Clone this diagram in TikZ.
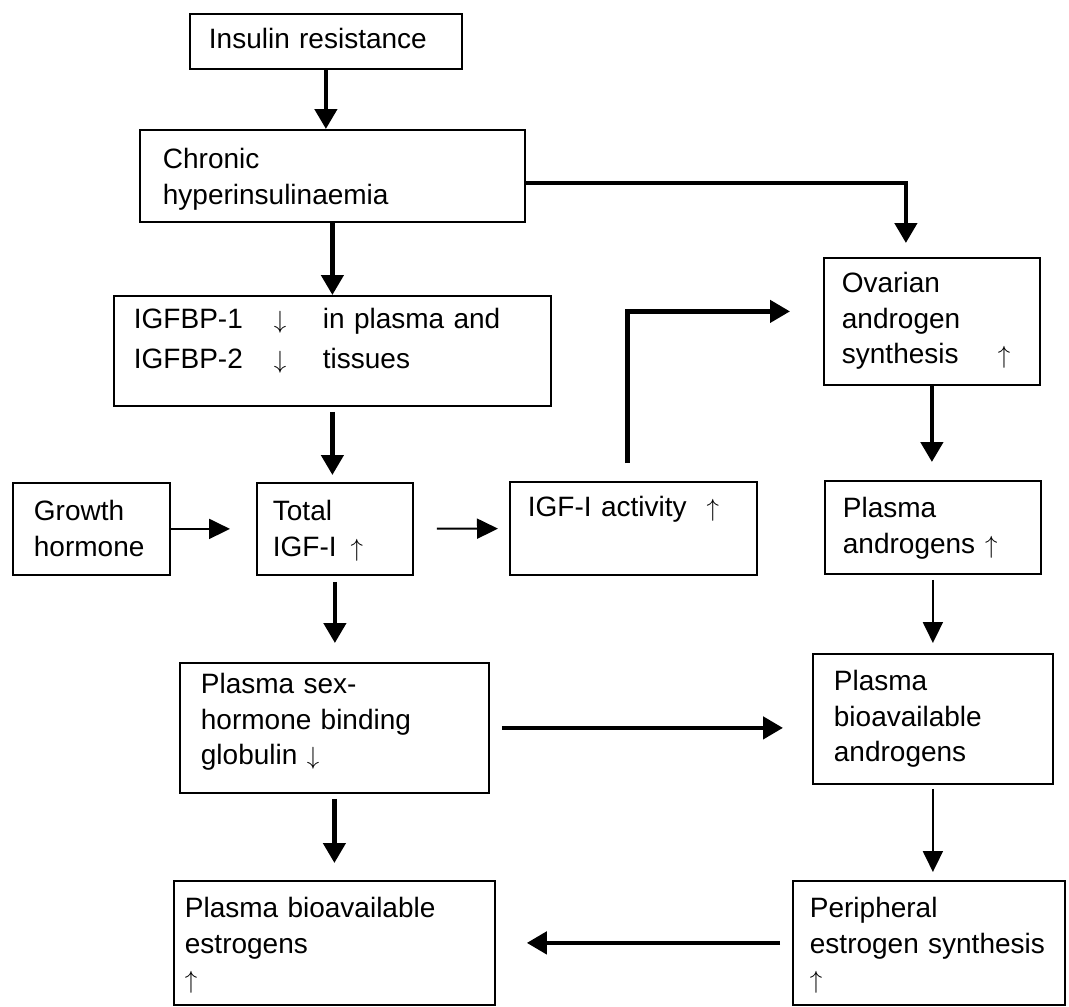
\documentclass[tikz,border=0pt]{standalone}
\usepackage{fontspec}
\setmainfont{Liberation Sans}
\usetikzlibrary{arrows.meta}

\begin{document}
\begin{tikzpicture}[x=1pt, y=-1pt,
  box/.style={draw, line width=1.8pt, anchor=north west, align=left,
    inner xsep=18pt, inner ysep=0pt, font=\fontsize{28}{35.5}\selectfont},
  bigarrow/.style={line width=4.5pt, -{Triangle[length=20pt, width=22pt]}},
  smallarrow/.style={line width=2pt, -{Triangle[length=21pt, width=20pt]}}]
  \useasboundingbox (0,0) rectangle (1069,1007);
  % boxes: top left corner, text height = first baseline, text depth = rest
  \node[box, text width=234pt, inner xsep=19pt, text height=35pt, text depth=20pt] (ins) at (189,13) {Insulin resistance};
  \node[box, text width=339pt, inner xsep=23pt, text height=39pt, text depth=53pt] (chr) at (139,129) {Chronic\\hyperinsulinaemia};
  \node[box, text width=397pt, inner xsep=20pt, text height=33pt, text depth=77pt] (bp) at (113,295)
    {\makebox[140pt][l]{IGFBP-1}\makebox[49pt][l]{$\downarrow$}in plasma and\\[4.5pt]
     \makebox[140pt][l]{IGFBP-2}\makebox[49pt][l]{$\downarrow$}tissues};
  \node[box, text width=115pt, inner xsep=21pt, text height=38pt, text depth=54pt] (gh) at (12,482) {Growth\\hormone};
  \node[box, text width=124pt, inner xsep=16pt, text height=38pt, text depth=54pt] (tot) at (256,482) {Total\\IGF-I\hspace{14pt}$\uparrow$};
  \node[box, text width=211pt, text height=35pt, text depth=58pt] (act) at (509,481) {IGF-I activity\hspace{20pt}$\uparrow$};
  \node[box, text width=180pt, text height=35pt, text depth=92pt] (ova) at (823,257) {Ovarian\\androgen\\\makebox[156pt][l]{synthesis}$\uparrow$};
  \node[box, text width=180pt, text height=37pt, text depth=56pt] (pan) at (824,480) {Plasma\\androgens\hspace{10pt}$\uparrow$};
  \node[box, text width=267pt, inner xsep=21pt, text height=31pt, text depth=99pt] (shbg) at (179,662) {Plasma sex-\\hormone binding\\globulin $\downarrow$};
  \node[box, text width=198pt, inner xsep=21pt, text height=37pt, text depth=93pt] (bav) at (812,653) {Plasma\\bioavailable\\androgens};
  \node[box, text width=299pt, inner xsep=11pt, text height=37pt, text depth=87pt] (est) at (173,880) {Plasma bioavailable\\estrogens\\$\uparrow$};
  \node[box, text width=238pt, inner xsep=17pt, text height=37pt, text depth=87pt] (per) at (792,880) {Peripheral\\estrogen synthesis\\$\uparrow$};

  \draw[bigarrow] (ins.south) -- (ins.south |- chr.north);
  \draw[bigarrow] (chr.south) -- (chr.south |- bp.north);
  \draw[bigarrow, shorten <=5pt, shorten >=7pt] (bp.south) -- (bp.south |- tot.north);
  \draw[bigarrow, shorten >=14pt] ([yshift=-7pt]chr.east) -| ([xshift=-26pt]ova.north);
  \draw[smallarrow, shorten >=26pt] (gh) -- (tot);
  \draw[smallarrow, shorten <=23pt, shorten >=11pt] (tot) -- (act);
  \draw[bigarrow, shorten <=18pt, shorten >=33pt] ([xshift=-6pt]act.north) |- ([yshift=10pt]ova.west);
  \draw[bigarrow, shorten >=18pt] (ova.south) -- (ova.south |- pan.north);
  \draw[smallarrow, shorten <=5pt, shorten >=10pt] (pan.south) -- (pan.south |- bav.north);
  \draw[bigarrow, shorten <=6pt, shorten >=19pt] (tot.south) -- (tot.south |- shbg.north);
  \draw[bigarrow, shorten <=12pt, shorten >=29pt] (shbg.east) -- (shbg.east -| bav.west);
  \draw[bigarrow, shorten <=5pt, shorten >=17pt] (shbg.south) -- (shbg.south |- est.north);
  \draw[smallarrow, shorten <=4pt, shorten >=8pt] (bav.south) -- (bav.south |- per.north);
  \draw[bigarrow, shorten <=12pt, shorten >=31pt] (per) -- (est);
\end{tikzpicture}
\end{document}
